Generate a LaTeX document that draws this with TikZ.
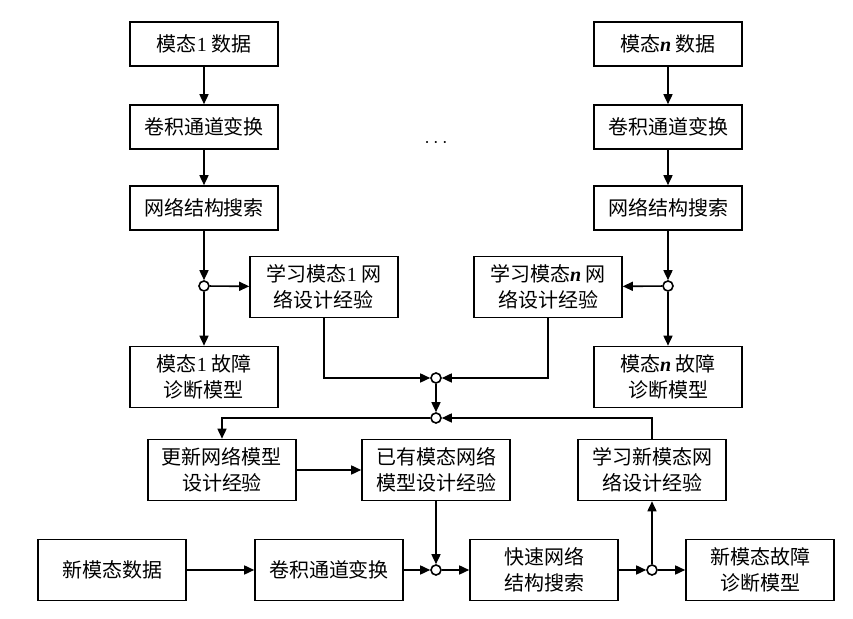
\documentclass[tikz,border=0pt]{standalone}
\usepackage{fontspec}
\setmainfont{Noto Sans CJK SC}
\newfontfamily\latin{Liberation Serif}
\usetikzlibrary{arrows.meta}
\newcommand{\modn}{{\latin\bfseries\itshape n}}
\newcommand{\modone}{{\latin 1}}

\begin{document}
\begin{tikzpicture}[>={Triangle[length=5pt,width=4.5pt]},x=0.5pt,y=-0.5pt,line width=0.8pt]
  \tikzset{box/.style={draw,align=center,minimum width=74pt,minimum height=22pt,inner sep=0pt,
      font=\fontsize{10pt}{13pt}\selectfont},
    tall/.style={box,minimum height=30.5pt},
    dot/.style={circle,draw,fill=white,inner sep=0pt,minimum size=5pt}}
  \useasboundingbox (0,0) rectangle (853,619);
  % modality 1
  \node[box]  (d1) at (204, 44) {模态\modone\ 数据};
  \node[box]  (c1) at (204,127) {卷积通道变换};
  \node[box]  (s1) at (204,208) {网络结构搜索};
  \node[dot]  (j1) at (204,286) {};
  \node[tall] (l1) at (324,287) {学习模态\modone\ 网\\络设计经验};
  \node[tall] (m1) at (204,377) {模态\modone\ 故障\\诊断模型};
  % modality n
  \node[box]  (dn) at (668, 44) {模态\modn\ 数据};
  \node[box]  (cn) at (668,127) {卷积通道变换};
  \node[box]  (sn) at (668,208) {网络结构搜索};
  \node[dot]  (jn) at (668,286) {};
  \node[tall] (ln) at (548,287) {学习模态\modn\ 网\\络设计经验};
  \node[tall] (mn) at (668,377) {模态\modn\ 故障\\诊断模型};
  \node (dots) at (436,143) {$\cdots$};
  % experience
  \node[dot]  (ja) at (436,378) {};
  \node[dot]  (jb) at (436,418) {};
  \node[tall] (up) at (222,470) {更新网络模型\\设计经验};
  \node[tall] (ex) at (436,470) {已有模态网络\\模型设计经验};
  \node[tall] (nl) at (652,470) {学习新模态网\\络设计经验};
  % new modality
  \node[tall] (nd) at (112,570) {新模态数据};
  \node[tall] (nc) at (329,570) {卷积通道变换};
  \node[dot]  (jc) at (436,570) {};
  \node[tall] (fs) at (544,570) {快速网络\\结构搜索};
  \node[dot]  (jd) at (652,570) {};
  \node[tall] (nm) at (760,570) {新模态故障\\诊断模型};

  \draw[->] (d1) -- (c1);
  \draw[->] (c1) -- (s1);
  \draw[->] (s1) -- (j1);
  \draw[->] (j1) -- (l1);
  \draw[->] (j1) -- (m1);
  \draw[->] (dn) -- (cn);
  \draw[->] (cn) -- (sn);
  \draw[->] (sn) -- (jn);
  \draw[->] (jn) -- (ln);
  \draw[->] (jn) -- (mn);
  \draw[->] (l1) |- (ja);
  \draw[->] (ln) |- (ja);
  \draw[->] (ja) -- (jb);
  \draw[->] (nl) |- (jb);
  \draw[->] (jb) -| (up);
  \draw[->] (up) -- (ex);
  \draw[->] (ex) -- (jc);
  \draw[->] (nd) -- (nc);
  \draw[->] (nc) -- (jc);
  \draw[->] (jc) -- (fs);
  \draw[->] (fs) -- (jd);
  \draw[->] (jd) -- (nl);
  \draw[->] (jd) -- (nm);
\end{tikzpicture}
\end{document}
